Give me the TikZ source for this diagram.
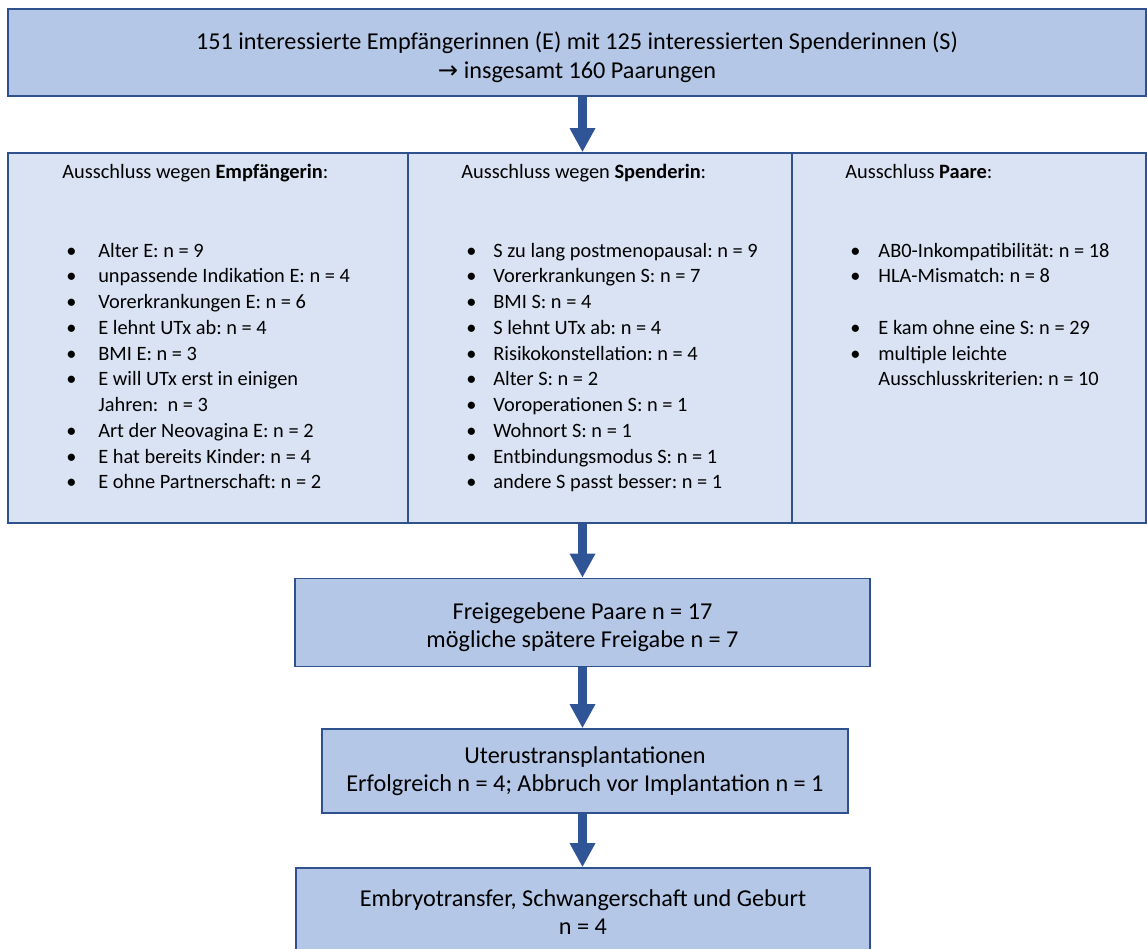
\documentclass[tikz,border=0pt]{standalone}
\usepackage{fontspec}
\setmainfont{Carlito}
\newfontfamily\arrowfont{DejaVu Sans}
\usepackage{xcolor}
\definecolor{boxBlue}{HTML}{B4C7E7}
\definecolor{boxBlueLight}{HTML}{DAE3F3}
\definecolor{lineBlue}{HTML}{2F528F}
\definecolor{arrowBlue}{HTML}{2F5597}
\usepackage{tikz}
\usetikzlibrary{arrows.meta, positioning, calc}
\frenchspacing
\newcommand{\lowertext}{\rule{0pt}{13.8pt}}

\begin{document}
\begin{tikzpicture}[
  x=0.52pt, y=-0.52pt,
  every node/.style={font=\fontsize{10.6}{13.4}\selectfont},
  stagebox/.style={rectangle, draw=lineBlue, line width=0.8pt, fill=boxBlue,
                   align=center, inner sep=0pt, font=\fontsize{12.6}{14.3}\selectfont},
  panelbox/.style={rectangle, draw=lineBlue, line width=0.8pt, fill=boxBlueLight,
                   inner sep=0pt, minimum height=370*0.52pt},
  flowarrow/.style={draw=arrowBlue, line width=4.6pt,
                    -{Triangle[width=12.5pt, length=12.5pt]}},
  heading/.style={anchor=base west, inner sep=0pt},
  itemlist/.style={anchor=base west, inner sep=0pt}
]
\useasboundingbox (0,0) rectangle (1147,949);

% top box
\node[stagebox, minimum width=1138*0.52pt, minimum height=87*0.52pt,
      font=\fontsize{12.6}{15.1}\selectfont] (start) at (577,52.5)
  {\lowertext 151 interessierte Empfängerinnen (E) mit 125 interessierten Spenderinnen (S)\\
   {\arrowfont →} insgesamt 160 Paarungen};

% exclusion panel
\node[panelbox, minimum width=400*0.52pt] (colE) at (208,338) {};
\node[panelbox, minimum width=384*0.52pt] (colS) at (600,338) {};
\node[panelbox, minimum width=354*0.52pt] (colP) at (969,338) {};

\node[heading] (headE) at (62,178) {Ausschluss wegen \textbf{Empfängerin}:};
\node[heading] (headS) at (461,178) {Ausschluss wegen \textbf{Spenderin}:};
\node[heading] (headP) at (845,178) {Ausschluss \textbf{Paare}:};

\node[itemlist] (listE) at (66,257) {%
  \begin{tabular}[t]{@{}p{16.6pt}@{}l@{}}
  \textbullet & Alter E: n = 9\\
  \textbullet & unpassende Indikation E: n = 4\\
  \textbullet & Vorerkrankungen E: n = 6\\
  \textbullet & E lehnt UTx ab: n = 4\\
  \textbullet & BMI E: n = 3\\
  \textbullet & E will UTx erst in einigen\\
              & Jahren: \ n = 3\\
  \textbullet & Art der Neovagina E: n = 2\\
  \textbullet & E hat bereits Kinder: n = 4\\
  \textbullet & E ohne Partnerschaft: n = 2
  \end{tabular}};

\node[itemlist] (listS) at (466,257) {%
  \begin{tabular}[t]{@{}p{14pt}@{}l@{}}
  \textbullet & S zu lang postmenopausal: n = 9\\
  \textbullet & Vorerkrankungen S: n = 7\\
  \textbullet & BMI S: n = 4\\
  \textbullet & S lehnt UTx ab: n = 4\\
  \textbullet & Risikokonstellation: n = 4\\
  \textbullet & Alter S: n = 2\\
  \textbullet & Voroperationen S: n = 1\\
  \textbullet & Wohnort S: n = 1\\
  \textbullet & Entbindungsmodus S: n = 1\\
  \textbullet & andere S passt besser: n = 1
  \end{tabular}};

\node[itemlist] (listP) at (850,257) {%
  \begin{tabular}[t]{@{}p{14.6pt}@{}l@{}}
  \textbullet & AB0-Inkompatibilität: n = 18\\
  \textbullet & HLA-Mismatch: n = 8\\
              & \\
  \textbullet & E kam ohne eine S: n = 29\\
  \textbullet & multiple leichte\\
              & Ausschlusskriterien: n = 10
  \end{tabular}};

% remaining stages
\node[stagebox, minimum width=575*0.52pt, minimum height=88*0.52pt] (release) at (582.5,622.5)
  {\lowertext Freigegebene Paare n = 17\\ mögliche spätere Freigabe n = 7};
\node[stagebox, minimum width=526*0.52pt, minimum height=84*0.52pt] (utx) at (585,771)
  {Uterustransplantationen\\ Erfolgreich n = 4; Abbruch vor Implantation n = 1};
\node[stagebox, minimum width=574*0.52pt, minimum height=88*0.52pt] (birth) at (583,912)
  {Embryotransfer, Schwangerschaft und Geburt\\ n = 4};

% arrows
\draw[flowarrow] (release.north |- start.south) -- (release.north |- colS.north);
\draw[flowarrow] (release.north |- colS.south) -- (release.north);
\draw[flowarrow] (release.south) -- (release.south |- utx.north);
\draw[flowarrow] (release.south |- utx.south) -- (release.south |- birth.north);
\end{tikzpicture}
\end{document}
